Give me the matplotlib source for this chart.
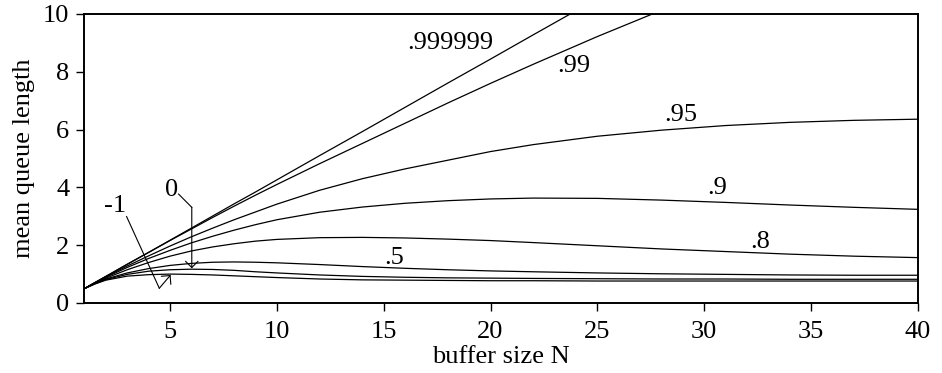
import matplotlib
matplotlib.use("Agg")
import matplotlib.pyplot as plt

plt.rcParams['font.family'] = ['Liberation Serif', 'DejaVu Serif']

# buffer size N
N = [1, 1.5, 2, 3, 4, 5, 6, 7, 8, 9, 10, 12, 14, 16, 18, 20, 22, 25, 28, 31, 34, 37, 40]

# mean queue length for each correlation value
q_999999 = [0.5, 0.71, 0.92, 1.34, 1.75, 2.17, 2.59, 3.01, 3.43, 3.84, 4.26, 5.10, 5.93, 6.77,
            7.61, 8.44, 9.28, 10.53, 11.79, 13.0, 14.3, 15.5, 16.8]
q_99     = [0.5, 0.71, 0.92, 1.34, 1.75, 2.16, 2.56, 2.96, 3.35, 3.73, 4.10, 4.82, 5.52, 6.22,
            6.92, 7.60, 8.26, 9.22, 10.13, 11.0, 11.85, 12.7, 13.5]
q_95     = [0.5, 0.71, 0.91, 1.28, 1.63, 1.97, 2.29, 2.59, 2.88, 3.15, 3.42, 3.90, 4.30, 4.64,
            4.94, 5.24, 5.48, 5.77, 5.98, 6.14, 6.25, 6.32, 6.36]
q_9      = [0.5, 0.70, 0.89, 1.23, 1.54, 1.82, 2.08, 2.31, 2.52, 2.71, 2.88, 3.14, 3.32, 3.45,
            3.54, 3.60, 3.63, 3.62, 3.56, 3.48, 3.39, 3.31, 3.24]
q_8      = [0.5, 0.69, 0.86, 1.15, 1.40, 1.62, 1.80, 1.94, 2.05, 2.14, 2.20, 2.26, 2.27, 2.25,
            2.21, 2.16, 2.09, 1.98, 1.87, 1.78, 1.69, 1.62, 1.57]
q_5      = [0.5, 0.68, 0.83, 1.04, 1.19, 1.30, 1.37, 1.41, 1.42, 1.41, 1.39, 1.33, 1.26, 1.20,
            1.15, 1.11, 1.08, 1.04, 1.01, 0.99, 0.97, 0.96, 0.96]
q_0      = [0.5, 0.67, 0.81, 0.99, 1.10, 1.15, 1.17, 1.16, 1.13, 1.08, 1.04, 0.97, 0.92, 0.89,
            0.87, 0.86, 0.85, 0.84, 0.83, 0.83, 0.82, 0.82, 0.82]
q_m1     = [0.5, 0.66, 0.79, 0.93, 0.98, 1.00, 0.99, 0.97, 0.94, 0.91, 0.88, 0.83, 0.80, 0.79,
            0.78, 0.77, 0.77, 0.76, 0.76, 0.76, 0.76, 0.76, 0.76]

series = [q_999999, q_99, q_95, q_9, q_8, q_5, q_0, q_m1]

# curve labels and their positions (N, y)
labels = [".999999", ".99", ".95", ".9", ".8", ".5"]
label_pos = [(18.1, 9.0), (23.9, 8.2), (28.9, 6.5), (30.6, 3.98), (32.6, 2.11), (15.5, 1.57)]

fig = plt.figure(figsize=(9.42, 3.73), dpi=100)
ax = fig.add_axes([0.0897, 0.1877, 0.8848, 0.7748])

for s in series:
    ax.plot(N, s, color='black', lw=0.9)

fs = 19
for t, (x, y) in zip(labels, label_pos):
    ax.text(x, y, t, ha='center', va='center', fontsize=fs)

# "0" label with bent arrow
ax.text(5.07, 3.91, "0", ha='center', va='center', fontsize=fs)
ax.plot([5.4, 6.02], [3.77, 3.31], color='black', lw=0.8)
ax.annotate('', xy=(6.02, 1.2), xytext=(6.02, 3.31),
            arrowprops=dict(arrowstyle='->,head_length=0.45,head_width=0.45',
                            lw=0.8, color='black', shrinkA=0, shrinkB=0))

# "-1" label with bent arrow
ax.text(2.45, 3.36, "-1", ha='center', va='center', fontsize=fs)
ax.plot([2.97, 4.5], [2.99, 0.51], color='black', lw=0.8)
ax.annotate('', xy=(5.03, 0.97), xytext=(4.5, 0.51),
            arrowprops=dict(arrowstyle='->,head_length=0.45,head_width=0.45',
                            lw=0.8, color='black', shrinkA=0, shrinkB=0))

ax.set_xlim(1, 40)
ax.set_ylim(0, 10)
ax.set_xticks([5, 10, 15, 20, 25, 30, 35, 40])
ax.set_yticks([0, 2, 4, 6, 8, 10])
ax.tick_params(direction='out', length=6, width=1.0, labelsize=fs)
ax.tick_params(axis='x', pad=7)
ax.tick_params(axis='y', pad=5)
for sp in ax.spines.values():
    sp.set_linewidth(1.4)

ax.set_xlabel("buffer size N", fontsize=fs, labelpad=2)
ax.set_ylabel("mean queue length", fontsize=fs, labelpad=6)

fig.savefig("out.png", dpi=100)
